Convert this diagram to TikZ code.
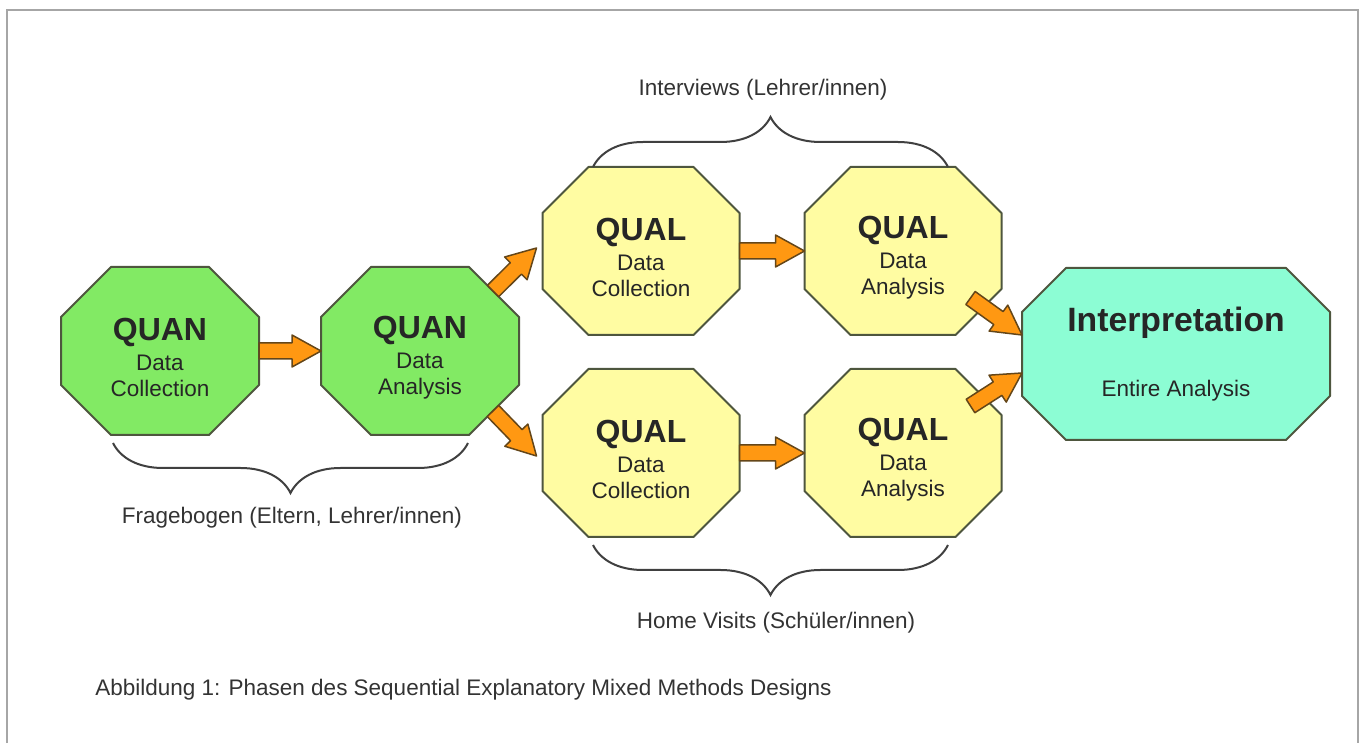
\documentclass[tikz,border=0pt]{standalone}
\usepackage{fontspec}
\setmainfont{Liberation Sans}
\usetikzlibrary{calc,decorations.pathreplacing}
\pgfdeclarelayer{background}
\pgfsetlayers{background,main}
\definecolor{quangreen}{RGB}{130,234,100}
\definecolor{qualyellow}{RGB}{255,252,162}
\definecolor{interpmint}{RGB}{140,253,212}
\definecolor{arroworange}{RGB}{255,152,18}
\definecolor{octline}{RGB}{78,86,62}
\definecolor{arrowline}{RGB}{100,70,25}
\def\headfont{\fontsize{18.2}{20}\selectfont\bfseries}
\def\blockarrow#1#2{%
  \coordinate (ba-s) at #1;
  \coordinate (ba-e) at #2;
  \coordinate (ba-h) at ($(ba-e)!0.58cm!(ba-s)$);
  \draw[flowarrow] ($(ba-s)!0.16cm!90:(ba-e)$) -- ($(ba-h)!0.16cm!90:(ba-e)$) -- ($(ba-h)!0.32cm!90:(ba-e)$) -- (ba-e)
    -- ($(ba-h)!0.32cm!-90:(ba-e)$) -- ($(ba-h)!0.16cm!-90:(ba-e)$) -- ($(ba-s)!0.16cm!-90:(ba-e)$) -- cycle;}

\begin{document}
\begin{tikzpicture}[
    phase/.style={rectangle, align=center, inner sep=0pt, outer sep=0pt, text=black!85,
      minimum width=3.94cm, minimum height=3.36cm, font=\fontsize{12.8}{14.8}\selectfont},
    octagon/.style={draw=octline, line width=0.04cm, line join=round},
    flowarrow/.style={fill=arroworange, draw=arrowline, line width=0.03cm, line join=round},
    groupbrace/.style={decorate, decoration={brace, amplitude=1cm}, draw=black!75, line width=0.04cm},
    note/.style={text=black!80, font=\fontsize{12.8}{14.8}\selectfont}]
  \useasboundingbox (0,0) rectangle (27.24,14.86);
  % frame
  \draw[black!35, line width=0.05cm] (0.14,0) -- (0.14,14.66) -- (27.16,14.66) -- (27.16,0);

  % phases
  \node[phase, minimum width=3.96cm] (quandc) at (3.20,7.84) {{\rule{0pt}{20pt}\headfont QUAN}\\[2.2pt] Data\\ Collection};
  \node[phase, minimum width=3.96cm] (quanda) at (8.40,7.84) {{\rule{0pt}{20pt}\headfont QUAN}\\[2.2pt] Data\\ Analysis};
  \node[phase] (qualtc) at (12.82,9.84) {{\rule{0pt}{20pt}\headfont QUAL}\\[2.2pt] Data\\ Collection};
  \node[phase] (qualta) at (18.06,9.84) {{\rule{0pt}{20pt}\headfont QUAL}\\[2.2pt] Data\\ Analysis};
  \node[phase] (qualbc) at (12.82,5.80) {{\rule{0pt}{20pt}\headfont QUAL}\\[2.2pt] Data\\ Collection};
  \node[phase] (qualba) at (18.06,5.80) {{\rule{0pt}{20pt}\headfont QUAL}\\[2.2pt] Data\\ Analysis};
  \node[phase, minimum width=6.16cm, minimum height=3.44cm] (interp) at (23.52,7.78)
    {{\fontsize{19.2}{20}\selectfont\bfseries Interpretation}\\[22pt] Entire Analysis};

  \begin{pgfonlayer}{background}
    \foreach \n/\c/\col in {quandc/1.0/quangreen, quanda/1.0/quangreen, qualtc/0.92/qualyellow, qualta/0.92/qualyellow,
        qualbc/0.92/qualyellow, qualba/0.92/qualyellow, interp/0.88/interpmint}
      \draw[octagon, fill=\col] ($(\n.north west)+(\c,0)$) -- ($(\n.north east)+(-\c,0)$) -- ($(\n.north east)+(0,-\c)$)
        -- ($(\n.south east)+(0,\c)$) -- ($(\n.south east)+(-\c,0)$) -- ($(\n.south west)+(\c,0)$)
        -- ($(\n.south west)+(0,\c)$) -- ($(\n.north west)+(0,-\c)$) -- cycle;
  \end{pgfonlayer}

  % arrows
  \blockarrow{(quandc.east)}{(quanda.west)}
  \blockarrow{(qualtc.east)}{(qualta.west)}
  \blockarrow{(qualbc.east)}{(qualba.west)}
  \blockarrow{($(quanda.north east)+(-0.52,-0.48)$)}{($(qualtc.west)+(-0.12,0.06)$)}
  \blockarrow{($(quanda.south east)+(-0.52,0.48)$)}{($(qualbc.west)+(-0.12,-0.06)$)}
  \blockarrow{($(qualta.south east)+(-0.62,0.74)$)}{($(interp.west)+(0,0.38)$)}
  \blockarrow{($(qualba.north east)+(-0.62,-0.74)$)}{($(interp.west)+(0,-0.38)$)}

  % braces
  \draw[groupbrace] (11.86,11.52) -- (18.96,11.52);
  \draw[groupbrace] (9.36,6.00) -- (2.26,6.00);
  \draw[groupbrace] (18.96,3.96) -- (11.86,3.96);
  \node[note] (interviews) at (15.26,13.06) {Interviews (Lehrer/innen)};
  \node[note] (fragebogen) at (5.84,4.50) {Fragebogen (Eltern, Lehrer/innen)};
  \node[note] (homevisits) at (15.52,2.40) {Home Visits (Schüler/innen)};

  % caption
  \node[note, anchor=west, inner sep=0pt] (caption) at (1.90,1.06)
    {Abbildung 1: Phasen des Sequential Explanatory Mixed Methods Designs};
\end{tikzpicture}
\end{document}
